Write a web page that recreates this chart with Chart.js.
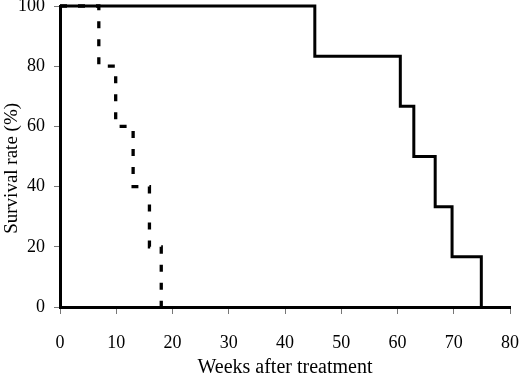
<!DOCTYPE html>
<html>
<head>
<meta charset="utf-8">
<script src="https://cdn.jsdelivr.net/npm/chart.js@4/dist/chart.umd.min.js"></script>
<style>
  html, body { margin: 0; padding: 0; background: #fff; }
  #wrap { width: 520px; height: 378px; position: relative; }
</style>
</head>
<body>
<div id="wrap"><canvas id="survivalChart"></canvas></div>
<script>
Chart.defaults.font.family = "'Liberation Serif', 'DejaVu Serif', serif";
Chart.defaults.color = "#000";

// solid curve
const treatedWeeks = [0, 45.3, 60.5, 62.9, 66.7, 69.7, 74.9];
const treatedSurvival = [100, 83.3, 66.7, 50, 33.3, 16.7, 0];

// dashed curve
const controlWeeks = [0, 6.9, 9.9, 13.0, 15.9, 18.0, 18.7];
const controlSurvival = [100, 80, 60, 40, 20, 0, 0];

const xTicks = [0, 10, 20, 30, 40, 50, 60, 70, 80];
const yTicks = [0, 20, 40, 60, 80, 100];

function toPoints(xs, ys) {
  return xs.map((x, i) => ({ x: x, y: ys[i] }));
}

function initSurvivalChart() {
  const ctx = document.getElementById("survivalChart");
  if (!ctx) return;

  new Chart(ctx, {
    type: "line",
    data: {
      datasets: [
        {
          label: "Treated",
          data: toPoints(treatedWeeks, treatedSurvival),
          borderColor: "#000",
          borderWidth: 3,
          stepped: "before",
          pointRadius: 0,
          fill: false,
          clip: false,
        },
        {
          label: "Control",
          data: toPoints(controlWeeks, controlSurvival),
          borderColor: "#000",
          borderWidth: 3.3,
          borderDash: [7, 11],
          borderCapStyle: "butt",
          stepped: "before",
          pointRadius: 0,
          fill: false,
          clip: false,
        },
      ],
    },
    options: {
      responsive: true,
      maintainAspectRatio: false,
      animation: false,
      layout: { padding: { top: 6, right: 10, left: 0, bottom: 0 } },
      plugins: {
        legend: { display: false },
        tooltip: { enabled: false },
      },
      scales: {
        x: {
          type: "linear",
          min: 0,
          max: 80,
          afterBuildTicks: (scale) => {
            scale.ticks = xTicks.map((v) => ({ value: v }));
          },
          ticks: {
            padding: 18,
            font: { size: 18 },
          },
          title: {
            display: true,
            text: "Weeks after treatment",
            font: { size: 20, lineHeight: 1 },
            padding: { top: 0, bottom: 0 },
          },
          grid: {
            drawOnChartArea: false,
            drawTicks: true,
            tickLength: 7,
            color: "#777",
            lineWidth: 1,
          },
          border: { display: true, color: "#000", width: 3 },
          afterFit: (scale) => {
            scale.height = 71;
            scale.paddingLeft = 0;
            scale.paddingRight = 0;
          },
        },
        y: {
          min: 0,
          max: 100,
          afterBuildTicks: (scale) => {
            scale.ticks = yTicks.map((v) => ({ value: v }));
          },
          ticks: {
            padding: 9,
            font: { size: 18 },
          },
          title: {
            display: true,
            // trailing spaces nudge the rotated title down a bit, like the original
            text: "Survival rate (%)     ",
            font: { size: 19, lineHeight: 1.3 },
            padding: { top: 0, bottom: 0 },
          },
          grid: {
            drawOnChartArea: false,
            drawTicks: true,
            tickLength: 6,
            color: "#777",
            lineWidth: 1,
          },
          border: { display: true, color: "#000", width: 3 },
          afterFit: (scale) => {
            scale.width = 60;
            scale.paddingTop = 0;
            scale.paddingBottom = 0;
          },
        },
      },
    },
  });
}

document.addEventListener("DOMContentLoaded", initSurvivalChart);
</script>
</body>
</html>
